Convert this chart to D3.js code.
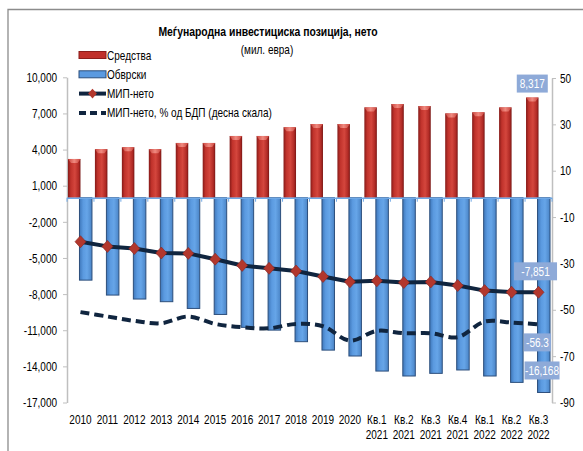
<!DOCTYPE html>
<html>
<head>
<meta charset="utf-8">
<script src="https://cdn.jsdelivr.net/npm/d3@7"></script>
<style>
  body { margin: 0; background: #fff; }
  svg { font-family: "Liberation Sans", Arial, sans-serif; }
</style>
</head>
<body>
<div id="container"></div>
<script>
// chart data
const categories = ["2010", "2011", "2012", "2013", "2014", "2015", "2016", "2017", "2018", "2019", "2020",
    "Кв.1|2021", "Кв.2|2021", "Кв.3|2021", "Кв.4|2021", "Кв.1|2022", "Кв.2|2022", "Кв.3|2022"];
const assets = [3220, 4030, 4190, 4030, 4550, 4550, 5130, 5130, 5850, 6120, 6120, 7500, 7780, 7610, 7000, 7090, 7500, 8317];
const liabilities = [-6840, -8080, -8410, -8630, -9190, -9690, -10760, -10990, -11950, -12650, -13140, -14390, -14800, -14580, -14300, -14800, -15330, -16168];
const netIip = [-3650, -4040, -4220, -4590, -4620, -5100, -5620, -5860, -6080, -6540, -6980, -6900, -7040, -6990, -7290, -7710, -7840, -7851];
const netGdp = [-51.0, -52.9, -54.8, -55.8, -52.9, -56.1, -57.5, -58.0, -56.1, -57.1, -63.3, -59.1, -60.1, -60.1, -61.8, -55.1, -55.5, -56.3];
const leftTicks = [10000, 7000, 4000, 1000, -2000, -5000, -8000, -11000, -14000, -17000];
const rightTicks = [50, 30, 10, -10, -30, -50, -70, -90];
const legendLabels = ["Средства", "Обврски", "МИП-нето", "МИП-нето, % од БДП (десна скала)"];

const width = 583, height = 451;
const navy = "#10253f";
const squeeze = 0.77; // the original uses a narrow face, so text is compressed sideways
const fs = 13;

const locale = d3.formatLocale({ decimal: ".", thousands: ",", grouping: [3], currency: ["", ""], minus: "-" });
const fmtInt = locale.format(",");
const fmtOne = locale.format(".1f");

const svg = d3.select("#container").append("svg").attr("width", width).attr("height", height);

// narrow text helper
function narrow(parent, x, y, txt, anchor, size) {
    return parent.append("text")
        .attr("transform", `translate(${x},${y}) scale(${squeeze},1)`)
        .attr("text-anchor", anchor || "start")
        .attr("font-size", size || fs)
        .text(txt);
}

// gradients for the bevelled bars
const defs = svg.append("defs");
function hGrad(id, stops) {
    const g = defs.append("linearGradient").attr("id", id).attr("x1", 0).attr("x2", 1).attr("y1", 0).attr("y2", 0);
    stops.forEach(s => g.append("stop").attr("offset", s[0]).attr("stop-color", s[1]));
}
hGrad("redGrad", [["0%", "#851a18"], ["22%", "#c0322b"], ["55%", "#d4463d"], ["85%", "#b02a25"], ["100%", "#781614"]]);
hGrad("blueGrad", [["0%", "#3f78bb"], ["30%", "#5b9ae0"], ["60%", "#66a5e8"], ["100%", "#4a84c6"]]);
hGrad("capGrad", [["0%", "#c9433b"], ["50%", "#f08a80"], ["100%", "#c9433b"]]);

// frame
svg.append("path").attr("d", `M8,${height} V9.5 H${width}`).attr("fill", "none").attr("stroke", "#8c8c8c").attr("stroke-width", 1.3);

// scales
const x = d3.scaleBand().domain(categories).range([67, 552]).padding(0);
const y = d3.scaleLinear().domain([-17000, 10000]).range([402.5, 77.3]);
const y2 = d3.scaleLinear().domain([-90, 50]).range([402.5, 78]);
const cx = d => x(d) + x.bandwidth() / 2;
const barW = 12.5;

// title
narrow(svg, 268, 36, "Меѓународна инвестициска позиција, нето", "middle", 13.5).attr("font-weight", "bold");
narrow(svg, 267, 54, "(мил. евра)", "middle", 13);

// axes
const leftAxis = svg.append("g").attr("transform", "translate(67,0)")
    .call(d3.axisLeft(y).tickValues(leftTicks).tickSize(4).tickSizeOuter(0).tickFormat(fmtInt));
const rightAxis = svg.append("g").attr("transform", "translate(552,0)")
    .call(d3.axisRight(y2).tickValues(rightTicks).tickSize(4).tickSizeOuter(0).tickFormat(fmtInt));
[leftAxis, rightAxis].forEach(a => {
    a.select(".domain").attr("stroke", "#bfbfbf").attr("stroke-width", 1.5);
    a.selectAll(".tick line").attr("stroke", "#bfbfbf");
    a.selectAll(".tick text").attr("font-size", fs).attr("fill", "#000")
        .attr("font-family", "Liberation Sans, Arial, sans-serif")
        .attr("transform", `scale(${squeeze},1)`);
});
leftAxis.selectAll(".tick text").attr("x", -10 / squeeze);
rightAxis.selectAll(".tick text").attr("x", 8 / squeeze);

// category labels
const xl = svg.append("g");
categories.forEach(c => {
    c.split("|").forEach((p, i) => narrow(xl, cx(c), 424 + i * 15, p, "middle"));
});

// assets bars
const red = svg.append("g");
red.selectAll("rect.bar").data(assets).enter().append("rect").attr("class", "bar")
    .attr("x", (d, i) => cx(categories[i]) - barW)
    .attr("y", d => y(d))
    .attr("width", barW)
    .attr("height", d => y(0) - y(d))
    .attr("fill", "url(#redGrad)");
red.selectAll("path.cap").data(assets).enter().append("path").attr("class", "cap")
    .attr("d", (d, i) => {
        const x0 = cx(categories[i]) - barW, t = y(d);
        return `M${x0},${t} H${x0 + barW} L${x0 + barW - 3},${t + 4} H${x0 + 3} Z`;
    })
    .attr("fill", "url(#capGrad)");

// liabilities bars
svg.append("g").selectAll("rect").data(liabilities).enter().append("rect")
    .attr("x", (d, i) => cx(categories[i]) - 1)
    .attr("y", y(0))
    .attr("width", barW)
    .attr("height", d => y(d) - y(0))
    .attr("fill", "url(#blueGrad)")
    .attr("stroke", "#2d4f7c")
    .attr("stroke-width", 1);

// category axis line at zero
svg.append("line").attr("x1", 67).attr("x2", 552).attr("y1", y(0) + 0.5).attr("y2", y(0) + 0.5)
    .attr("stroke", "#6fa8e6").attr("stroke-width", 1.6);
svg.append("g").selectAll("line").data(categories.concat(["end"])).enter().append("line")
    .attr("x1", (d, i) => 67 + i * x.bandwidth()).attr("x2", (d, i) => 67 + i * x.bandwidth())
    .attr("y1", y(0)).attr("y2", y(0) + 4)
    .attr("stroke", "#6fa8e6");

// net IIP % of GDP, dashed, right scale
const gdpLine = d3.line().x((d, i) => cx(categories[i])).y(d => y2(d)).curve(d3.curveCatmullRom.alpha(0.5));
svg.append("path").attr("d", gdpLine(netGdp)).attr("fill", "none")
    .attr("stroke", navy).attr("stroke-width", 4).attr("stroke-dasharray", "9,5");

// net IIP line with diamonds
const netLine = d3.line().x((d, i) => cx(categories[i])).y(d => y(d));
svg.append("path").attr("d", netLine(netIip)).attr("fill", "none")
    .attr("stroke", navy).attr("stroke-width", 4).attr("stroke-linejoin", "round");
const diamond = "M0,-6 L5.5,0 L0,6 L-5.5,0 Z";
svg.append("g").selectAll("path").data(netIip).enter().append("path")
    .attr("d", diamond)
    .attr("transform", (d, i) => `translate(${cx(categories[i])},${y(d)})`)
    .attr("fill", "#b2372d").attr("stroke", "#8a2520").attr("stroke-width", 0.6);

// data labels for the last period
const last = categories.length - 1;
const lastC = cx(categories[last]);
const labels = [
    { text: fmtInt(assets[last]), x: lastC - barW / 2, y: y(assets[last]) - 14, w: 31 },
    { text: fmtInt(netIip[last]), x: lastC - 3, y: y(netIip[last]) - 21, w: 43 },
    { text: fmtOne(netGdp[last]), x: lastC - 1, y: y2(netGdp[last]) + 18, w: 27 },
    { text: fmtInt(liabilities[last]), x: lastC + 3.5, y: y(liabilities[last]) - 22, w: 35 }
];
const lg = svg.append("g");
labels.forEach(l => {
    lg.append("rect").attr("x", l.x - l.w / 2).attr("y", l.y - 9).attr("width", l.w).attr("height", 18)
        .attr("fill", "#8eaad8");
    narrow(lg, l.x, l.y + 4.5, l.text, "middle").attr("fill", "#fff");
});

// legend
const legend = svg.append("g");
legendLabels.forEach((name, i) => {
    const ly = 55 + i * 19.3;
    const item = legend.append("g").attr("transform", `translate(79,${ly})`);
    if (i === 0) {
        item.append("rect").attr("x", 0).attr("y", -3.5).attr("width", 27).attr("height", 7).attr("fill", "#c0302a").attr("stroke", "#8c1d1a");
    } else if (i === 1) {
        item.append("rect").attr("x", 0).attr("y", -3.5).attr("width", 27).attr("height", 7).attr("fill", "#5b9ae0").attr("stroke", "#2d4f7c");
    } else if (i === 2) {
        item.append("line").attr("x1", 0).attr("x2", 27).attr("stroke", navy).attr("stroke-width", 4);
        item.append("path").attr("d", diamond).attr("transform", "translate(13.5,0) scale(0.8)").attr("fill", "#b2372d");
    } else {
        item.append("line").attr("x1", 0).attr("x2", 27).attr("stroke", navy).attr("stroke-width", 4).attr("stroke-dasharray", "7,4");
    }
    narrow(item, 28, 4.5, name);
});
</script>
</body>
</html>
